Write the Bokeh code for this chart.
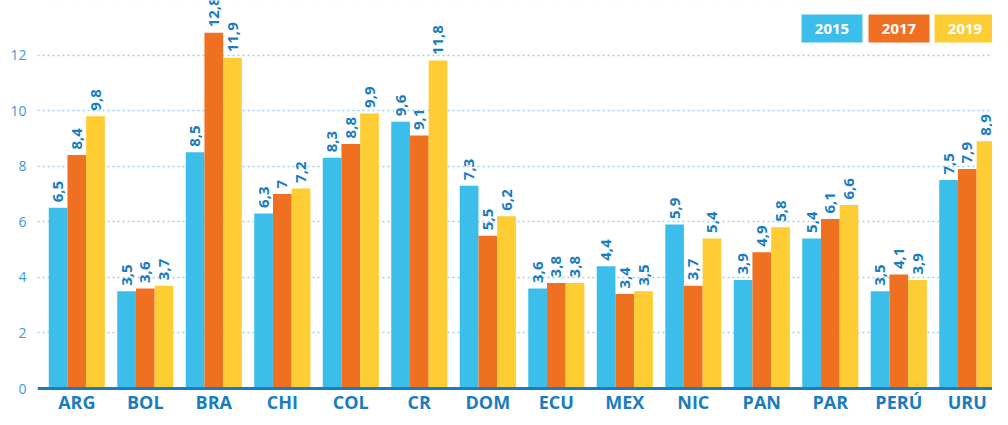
import numpy as np
from bokeh.plotting import figure
from bokeh.models import ColumnDataSource, Range1d, Span, FixedTicker
from bokeh.core.properties import value
from bokeh.embed import file_html
from bokeh.resources import INLINE

countries = ["ARG", "BOL", "BRA", "CHI", "COL", "CR", "DOM", "ECU", "MEX", "NIC", "PAN", "PAR", "PERÚ", "URU"]
years = ["2015", "2017", "2019"]
v2015 = [6.5, 3.5, 8.5, 6.3, 8.3, 9.6, 7.3, 3.6, 4.4, 5.9, 3.9, 5.4, 3.5, 7.5]
v2017 = [8.4, 3.6, 12.8, 7.0, 8.8, 9.1, 5.5, 3.8, 3.4, 3.7, 4.9, 6.1, 4.1, 7.9]
v2019 = [9.8, 3.7, 11.9, 7.2, 9.9, 11.8, 6.2, 3.8, 3.5, 5.4, 5.8, 6.6, 3.9, 8.9]
y_ticks = [0, 2, 4, 6, 8, 10, 12, 14]

colors = ["#3CBEEB", "#F07022", "#FECD33"]
label_blue = "#1A7CC0"
tick_blue = "#3D9AD6"
grid_blue = "#9CCFEC"
FONT = "Open Sans"

W, H = 992, 409
LEFT = 37
# canvas-pixel layout helpers (chart geometry)
X0_PX, X_STEP = 76.3, 68.5        # centre of first group, group spacing
Y0_PX, Y_STEP = 388.0, 27.79      # y of value 0, px per unit
def xd(px):
    return (px - X0_PX) / X_STEP
def yd(py):
    return (Y0_PX - py) / Y_STEP

p = figure(width=W, height=H, output_backend="svg", toolbar_location=None,
           x_range=Range1d(xd(LEFT), xd(W)), y_range=Range1d(yd(H), yd(0)),
           min_border_left=LEFT, min_border_right=0, min_border_top=0, min_border_bottom=0)
p.outline_line_color = None
p.background_fill_color = "white"
p.border_fill_color = "white"

# axes
p.xaxis.visible = False
p.xgrid.visible = False
p.yaxis.ticker = FixedTicker(ticks=y_ticks)
p.yaxis.axis_line_color = None
p.yaxis.major_tick_line_color = None
p.yaxis.minor_tick_line_color = None
p.yaxis.major_tick_out = 0
p.yaxis.major_tick_in = 0
p.yaxis.major_label_text_font = FONT
p.yaxis.major_label_text_font_size = "14px"
p.yaxis.major_label_text_color = tick_blue
p.yaxis.major_label_standoff = 11
p.ygrid.ticker = FixedTicker(ticks=[t for t in y_ticks if t > 0])
p.ygrid.grid_line_color = grid_blue
p.ygrid.grid_line_dash = "2 3"
p.ygrid.grid_line_width = 1.5

# bars
idx = np.arange(len(countries))
bw = 18.7 / X_STEP
series = [v2015, v2017, v2019]
offsets = [-bw, 0.0, bw]

def fmt(v):
    s = f"{v:.1f}"
    if s.endswith(".0"):
        s = s[:-2]
    return s.replace(".", ",")

for vals, off, col in zip(series, offsets, colors):
    src = ColumnDataSource(dict(
        x=idx + off,
        top=vals,
        ly=[v + 5.5 / Y_STEP for v in vals],
        lab=[fmt(v) for v in vals],
    ))
    p.vbar(x="x", top="top", bottom=0, width=bw, source=src, fill_color=col, line_color=None)
    p.text(x="x", y="ly", text="lab", source=src, angle=np.pi / 2,
           text_align="left", text_baseline="middle",
           text_font=value(FONT), text_font_style="bold", text_font_size="15px",
           text_color=label_blue)

# baseline axis
p.add_layout(Span(location=0, dimension="width", line_color=label_blue, line_width=3))

# category labels
p.text(x=idx, y=[yd(401)] * len(countries), text=countries,
       text_align="center", text_baseline="alphabetic",
       text_font=value(FONT), text_font_style="bold", text_font_size="18px",
       text_color=label_blue)

# legend boxes
leg_left = [xd(801), xd(868), xd(934)]
leg_right = [xd(862), xd(929), xd(996)]
leg_text_x = [xd(831.5), xd(898.5), xd(964.5)]
leg_top, leg_bottom = yd(14), yd(42)
p.quad(left=leg_left, right=leg_right, top=[leg_top] * 3, bottom=[leg_bottom] * 3,
       fill_color=colors, line_color=None)
p.text(x=leg_text_x, y=[(leg_top + leg_bottom) / 2] * 3, text=years,
       text_align="center", text_baseline="middle",
       text_font=value(FONT), text_font_style="bold", text_font_size="15px",
       text_color="white")

open("out.html", "w").write(file_html(p, INLINE))
